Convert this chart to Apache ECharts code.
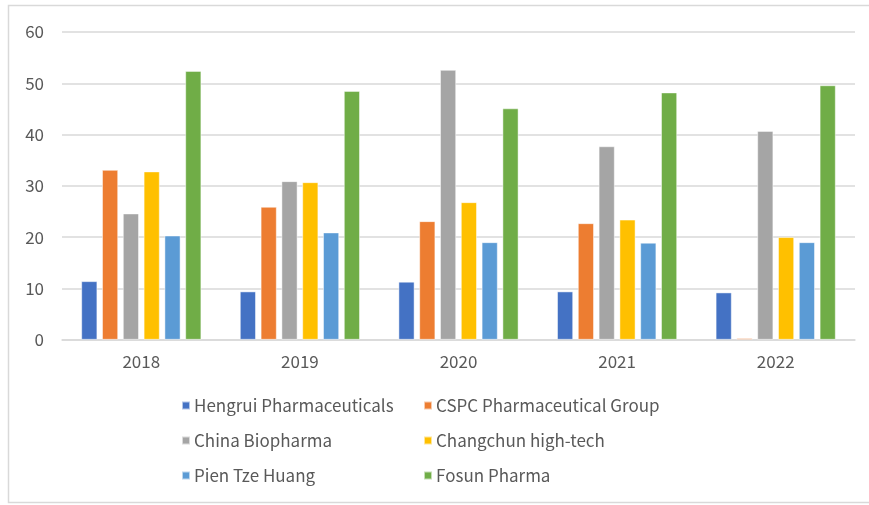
<!DOCTYPE html>
<html><head><meta charset="utf-8">
<script src="https://cdn.jsdelivr.net/npm/echarts@6/dist/echarts.min.js"></script>
<style>html,body{margin:0;padding:0;background:#fff}#c{width:869px;height:505px}</style>
</head><body><div id="c"></div>
<script>
const years = ['2018','2019','2020','2021','2022'];
const seriesNames = ['Hengrui Pharmaceuticals','CSPC Pharmaceutical Group','China Biopharma','Changchun high-tech','Pien Tze Huang','Fosun Pharma'];
const hengrui = [11.4, 9.4, 11.3, 9.4, 9.2];
const cspc = [33.1, 25.9, 23.1, 22.7, 0.3];
const chinaBio = [24.6, 30.9, 52.6, 37.7, 40.7];
const changchun = [32.8, 30.7, 26.8, 23.4, 20.0];
const pien = [20.3, 20.9, 19.0, 18.9, 19.0];
const fosun = [52.4, 48.5, 45.1, 48.2, 49.6];
const colors = ['#4472c4','#ed7d31','#a5a5a5','#ffc000','#5b9bd5','#70ad47'];
const allData = [hengrui, cspc, chinaBio, changchun, pien, fosun];
const font = '"Noto Sans CJK SC", "Noto Sans", sans-serif';

const chart = echarts.init(document.getElementById('c'), null, {renderer:'canvas'});
const legendBase = {
  orient: 'vertical', itemWidth: 8, itemHeight: 8, itemGap: 18, icon: 'rect',
  textStyle: {color: '#595959', fontSize: 17, fontFamily: font, padding: [0,0,0,-1]},
  top: 392
};
chart.setOption({
  animation: false,
  color: colors,
  grid: {left: 62, right: 14, top: 32, bottom: 165.3},
  legend: [
    Object.assign({}, legendBase, {left: 176, data: [seriesNames[0], seriesNames[2], seriesNames[4]]}),
    Object.assign({}, legendBase, {left: 418, data: [seriesNames[1], seriesNames[3], seriesNames[5]]})
  ],
  xAxis: {
    type: 'category', data: years,
    axisLine: {lineStyle: {color: '#d9d9d9', width: 1.5}},
    axisTick: {show: false},
    axisLabel: {color: '#595959', fontSize: 17, fontFamily: font, margin: 13}
  },
  yAxis: {
    type: 'value', min: 0, max: 60, interval: 10,
    axisLine: {show: false}, axisTick: {show: false},
    splitLine: {lineStyle: {color: '#d9d9d9', width: 1.5}},
    axisLabel: {color: '#595959', fontSize: 17, fontFamily: font, margin: 18}
  },
  graphic: [
    {type: 'polyline', shape: {points: [[869,5.5],[8.5,5.5],[8.5,502.5],[869,502.5]]}, style: {stroke: '#d9d9d9', fill: null, lineWidth: 1.5}, silent: true}
  ],
  series: seriesNames.map((n, i) => ({
    name: n, type: 'bar', data: allData[i],
    barWidth: 16, barGap: '30%',
    itemStyle: {color: colors[i], borderColor: 'rgba(255,255,255,0.6)', borderWidth: 0.8}
  }))
});
</script></body></html>
